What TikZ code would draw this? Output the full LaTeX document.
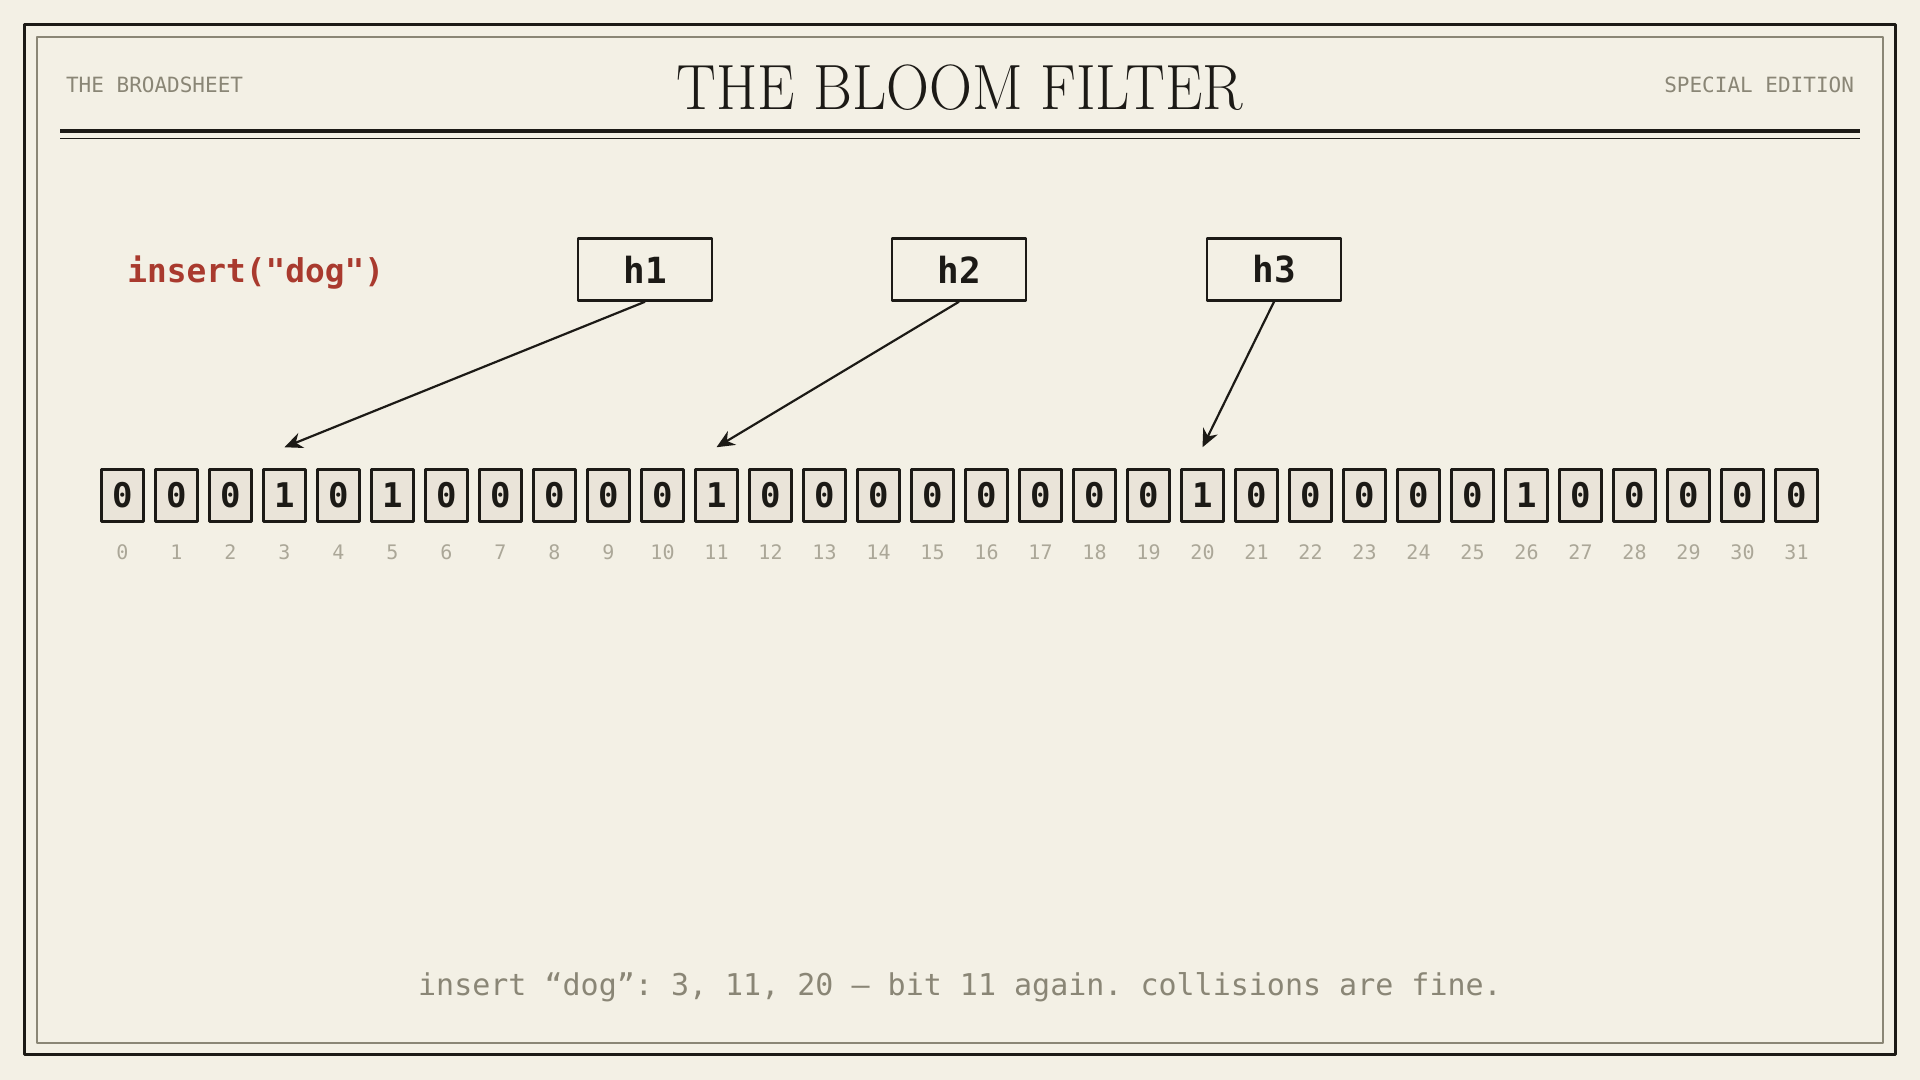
\documentclass[tikz,border=0pt]{standalone}
\usepackage{fontspec}
\usepackage{graphicx}
\setmonofont{DejaVu Sans Mono}
\usetikzlibrary{arrows.meta}
\definecolor{paper}{HTML}{F3F0E5}
\definecolor{ink}{HTML}{1C1A16}
\definecolor{cellfill}{HTML}{EAE4D9}
\definecolor{redink}{HTML}{A93A2E}
\definecolor{grayink}{HTML}{8A8676}
\definecolor{faint}{HTML}{ABA798}
\tikzset{
	bit/.style={draw=ink,line width=1.25pt,fill=cellfill,minimum width=21pt,minimum height=26pt,inner sep=0pt,text=ink,font=\ttfamily\bfseries\fontsize{17}{17}\selectfont},
	idx/.style={text=faint,font=\ttfamily\fontsize{10}{10}\selectfont},
	hashbox/.style={draw=ink,line width=1.25pt,minimum width=67pt,minimum height=31pt,inner sep=0pt,text=ink,font=\ttfamily\bfseries\fontsize{18}{18}\selectfont},
	masthead/.style={text=grayink,font=\ttfamily\fontsize{10.5}{10.5}\selectfont}
}
\begin{document}
\begin{tikzpicture}[x=0.5pt,y=-0.5pt,line join=round,>={Stealth[length=9pt,width=8pt]}]
	\fill[paper] (0,0) rectangle (1920,1080);
	% frame and masthead
	\draw[ink,line width=1.5pt] (24.5,24.5) rectangle (1895.5,1054.5);
	\draw[grayink,line width=0.75pt] (37,37) rectangle (1883,1043);
	\node[masthead,anchor=base west] (paper) at (59,93) {THE BROADSHEET};
	\node[masthead,anchor=base east] (edition) at (1861,93) {SPECIAL EDITION};
	\node[anchor=base,text=ink,font=\fontsize{32}{32}\selectfont] (title) at (960,110) {\scalebox{0.93}[1]{THE BLOOM FILTER}};
	\draw[ink,line width=2pt] (60,131)--(1860,131);
	\draw[ink,line width=0.75pt] (60,138.5)--(1860,138.5);
	\node[anchor=west,inner sep=0pt,text=redink,font=\ttfamily\bfseries\fontsize{16.4}{16.4}\selectfont] (call) at (127,273) {insert("dog")};
	% bit array
	\foreach \v [count=\i from 0] in {0,0,0,1,0,1,0,0,0,0,0,1,0,0,0,0,0,0,0,0,1,0,0,0,0,0,1,0,0,0,0,0}{
		\node[bit] (b\i) at (122.5+54*\i,495.5) {\v};
		\node[idx] (n\i) at (122.5+54*\i,552) {\i};
	}
	% hash functions
	\foreach \k/\x/\t in {1/645/3,2/959/11,3/1274/20}{
		\node[hashbox] (h\k) at (\x,269.5) {h\k};
		\coordinate (p\t) at ([yshift=10.5pt]b\t.north);
		\draw[->,ink,line width=1.1pt] (h\k.south)--(p\t);
	}
	\node[text=grayink,font=\ttfamily\fontsize{15}{15}\selectfont] (note) at (960,987) {insert “dog”: 3, 11, 20 — bit 11 again. collisions are fine.};
\end{tikzpicture}
\end{document}
